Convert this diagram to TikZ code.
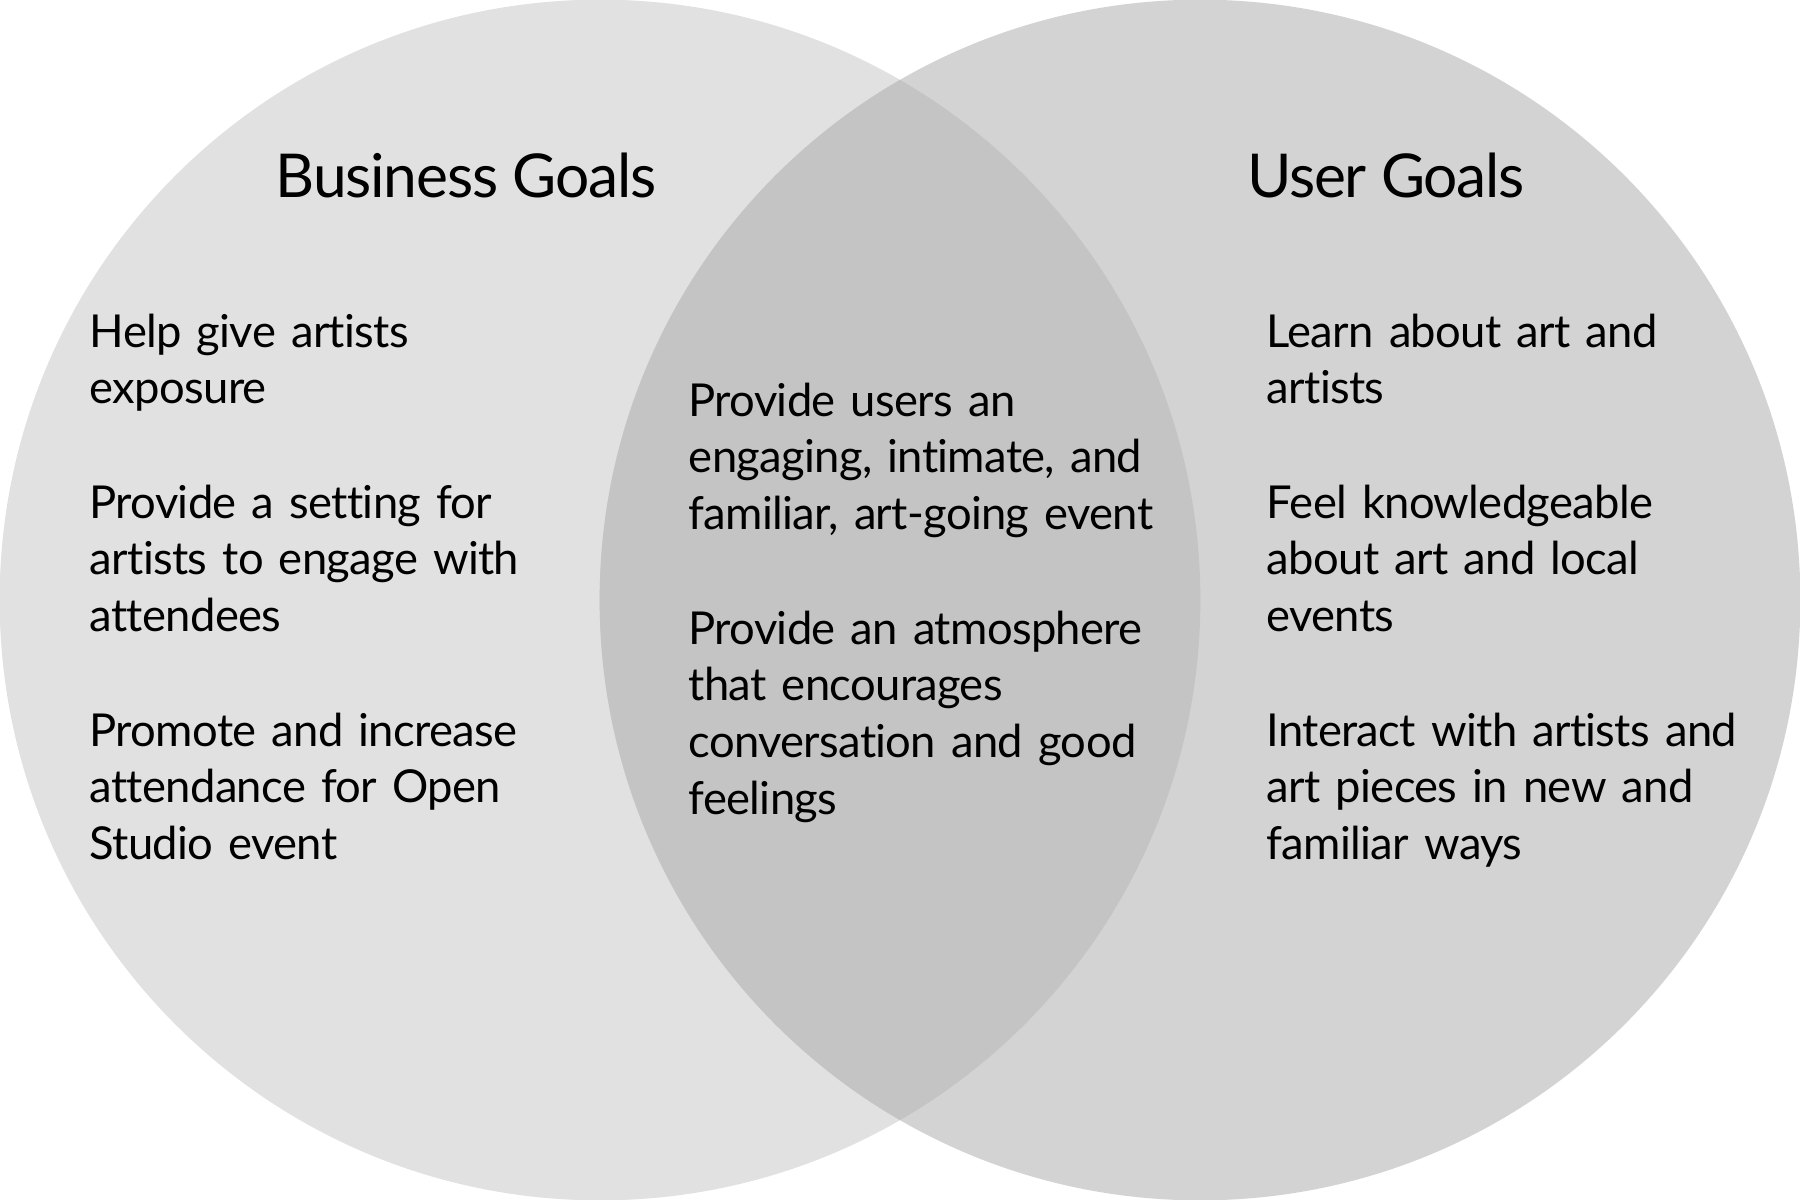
\documentclass[tikz,border=0pt]{standalone}
\usepackage{fontspec}
\setmainfont{Lato}[Ligatures=NoCommon,WordSpace=0.65,LetterSpace=-1.5]
\newfontfamily\titlefont{Lato}[Ligatures=NoCommon,WordSpace=1,LetterSpace=-2]
\definecolor{leftc}{HTML}{E1E1E1}
\definecolor{rightc}{HTML}{D3D3D3}
\definecolor{midc}{HTML}{C4C4C4}
\begin{document}
\begin{tikzpicture}[x=0.01cm,y=-0.01cm,
  title/.style={anchor=base,inner sep=0pt,font=\titlefont\fontsize{17.2pt}{20pt}\selectfont},
  body/.style={anchor=base west,inner sep=0pt,text width=7cm,align=left,font=\fontsize{12.9pt}{16.2pt}\selectfont}]
\useasboundingbox (0,0) rectangle (1800,1200);
\fill[leftc] (600,600) circle[radius=6cm];
\fill[rightc] (1200,600) circle[radius=6cm];
\begin{scope}
\clip (600,600) circle[radius=6cm];
\fill[midc] (1200,600) circle[radius=6cm];
\end{scope}
\node[title] (bg) at (466,197.5) {Business Goals};
\node[title] (ug) at (1386,197.5) {User Goals};
\node[body] (b1) at (89,347) {Help give artists\\exposure};
\node[body] (b2) at (89,518) {Provide a setting for\\artists to engage with\\attendees};
\node[body] (b3) at (89,746) {Promote and increase\\attendance for Open\\Studio event};
\node[body] (m1) at (688,416) {Provide users an\\engaging, intimate, and\\familiar, art-going event};
\node[body] (m2) at (688,644) {Provide an atmosphere\\that encourages\\conversation and good\\feelings};
\node[body] (u1) at (1266,347) {Learn about art and\\artists};
\node[body] (u2) at (1266,518) {Feel knowledgeable\\about art and local\\events};
\node[body] (u3) at (1266,746) {Interact with artists and\\art pieces in new and\\familiar ways};
\end{tikzpicture}
\end{document}
